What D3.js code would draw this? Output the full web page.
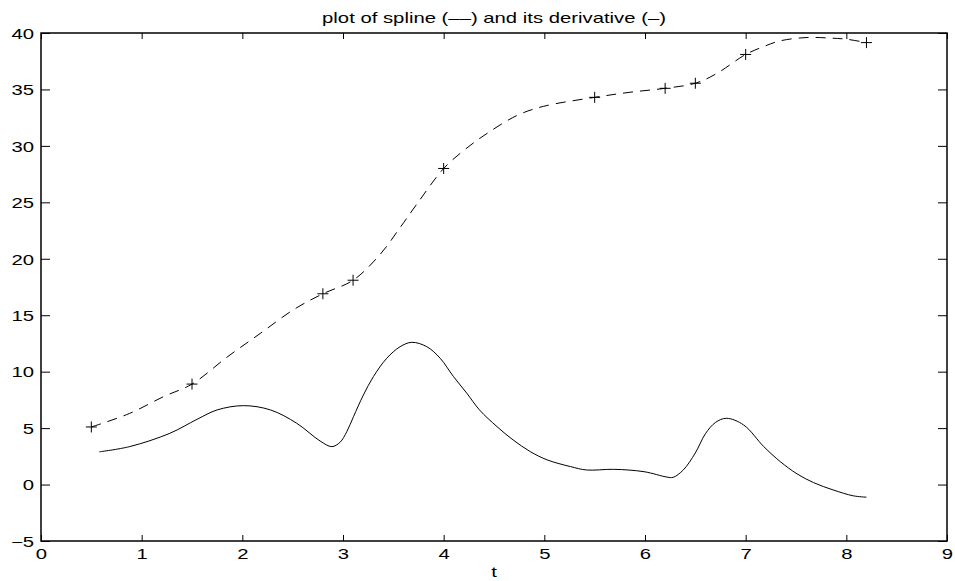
<!DOCTYPE html>
<html lang="en">
<head>
    <meta charset="UTF-8">
    <title>spline and derivative</title>
    <script src="https://d3js.org/d3.v7.min.js"></script>
    <style>
        body { margin: 0; background: #fff; }
        text { font-family: "Liberation Sans", Arial, Helvetica, sans-serif; }
    </style>
</head>
<body>
<script>
    // knots of the spline (the + markers)
    var knotT = [0.5, 1.5, 2.8, 3.1, 4.0, 5.5, 6.2, 6.5, 7.0, 8.2];
    var knotY = [5.1, 8.9, 16.9, 18.1, 28.0, 34.3, 35.1, 35.55, 38.1, 39.15];

    // spline curve (dashed)
    var splineT = [0.5, 0.88, 1.22, 1.5, 1.85, 2.18, 2.51, 2.8, 3.1, 3.37, 3.57, 3.73, 4.0, 4.2, 4.43, 4.73, 4.99, 5.5, 5.85, 6.2, 6.5, 6.71, 7.0, 7.18, 7.34, 7.61, 7.84, 8.0, 8.2];
    var splineY = [5.1, 6.3, 7.8, 8.9, 11.3, 13.4, 15.5, 16.9, 18.1, 20.4, 22.8, 24.8, 28.0, 29.6, 31.1, 32.7, 33.5, 34.3, 34.75, 35.1, 35.55, 36.4, 38.1, 38.8, 39.3, 39.6, 39.55, 39.45, 39.15];

    // derivative curve (solid)
    var derivT = [0.58, 0.88, 1.28, 1.55, 1.75, 2.01, 2.28, 2.54, 2.772, 2.889, 2.971, 3.038, 3.104, 3.203, 3.302, 3.435, 3.567, 3.684, 3.833, 3.965, 4.098, 4.23, 4.356, 4.53, 4.69, 4.86, 5.03, 5.26, 5.42, 5.69, 5.99, 6.22, 6.28, 6.38, 6.5, 6.6, 6.7, 6.81, 6.98, 7.18, 7.344, 7.51, 7.675, 7.87, 8.07, 8.2];
    var derivY = [2.9, 3.36, 4.54, 5.78, 6.61, 6.99, 6.61, 5.43, 3.86, 3.36, 3.75, 4.69, 6.01, 7.94, 9.56, 11.19, 12.21, 12.6, 12.21, 11.19, 9.56, 8.09, 6.61, 5.13, 3.95, 2.92, 2.18, 1.59, 1.29, 1.35, 1.14, 0.66, 0.64, 1.29, 2.8, 4.5, 5.5, 5.87, 5.28, 3.36, 2.03, 0.95, 0.17, -0.48, -1.0, -1.12];

    var xTicks = [0, 1, 2, 3, 4, 5, 6, 7, 8, 9];
    var yTicks = [-5, 0, 5, 10, 15, 20, 25, 30, 35, 40];

    var W = 955, H = 581;
    var boxL = 41, boxR = 947, boxT = 33, boxB = 541;
    var stretch = 1.45; // text in the picture is wide

    var svg = d3.select("body").append("svg")
        .attr("width", W)
        .attr("height", H);

    var x = d3.scaleLinear().domain([0, 9]).range([boxL, boxR]);
    var y = d3.scaleLinear().domain([-5, 40]).range([boxB, boxT]);

    var fmt = d3.format("d");

    // axes, ticks pointing inward
    var gB = svg.append("g").attr("transform", "translate(0," + boxB + ")")
        .call(d3.axisBottom(x).tickValues(xTicks).tickFormat(fmt).tickSizeInner(-6).tickSizeOuter(0).tickPadding(8));
    var gT = svg.append("g").attr("transform", "translate(0," + boxT + ")")
        .call(d3.axisTop(x).tickValues(xTicks).tickFormat("").tickSizeInner(-6).tickSizeOuter(0));
    var gL = svg.append("g").attr("transform", "translate(" + boxL + ",0)")
        .call(d3.axisLeft(y).tickValues(yTicks).tickFormat(fmt).tickSizeInner(-9).tickSizeOuter(0));
    var gR = svg.append("g").attr("transform", "translate(" + boxR + ",0)")
        .call(d3.axisRight(y).tickValues(yTicks).tickFormat("").tickSizeInner(-9).tickSizeOuter(0));

    [gB, gT, gL, gR].forEach(function(g){
        g.select(".domain").remove();
        g.selectAll(".tick line").attr("stroke", "#000").attr("stroke-width", 1);
        g.selectAll(".tick text")
            .attr("fill", "#000")
            .style("font-size", "14px")
            .attr("transform", "scale(" + stretch + ",1)");
    });
    gL.selectAll(".tick text").attr("x", -7 / stretch).attr("dy", "0.38em");

    svg.append("rect")
        .attr("x", boxL).attr("y", boxT)
        .attr("width", boxR - boxL).attr("height", boxB - boxT)
        .attr("fill", "none")
        .attr("stroke", "#000")
        .attr("stroke-width", 1.5);

    var line = d3.line()
        .x(function(d){ return x(d[0]); })
        .y(function(d){ return y(d[1]); })
        .curve(d3.curveCatmullRom.alpha(0.5));

    var splineData = splineT.map(function(t, i){ return [t, splineY[i]]; });
    var derivData = derivT.map(function(t, i){ return [t, derivY[i]]; });
    var knotData = knotT.map(function(t, i){ return [t, knotY[i]]; });

    svg.append("path")
        .attr("d", line(splineData))
        .attr("fill", "none")
        .attr("stroke", "#000")
        .attr("stroke-width", 1)
        .attr("stroke-dasharray", "10,7");

    svg.append("path")
        .attr("d", line(derivData))
        .attr("fill", "none")
        .attr("stroke", "#000")
        .attr("stroke-width", 1);

    // + markers
    var m = 5.5;
    svg.selectAll(".knot")
        .data(knotData)
        .enter()
        .append("path")
        .attr("class", "knot")
        .attr("d", function(d){
            var cx = x(d[0]), cy = y(d[1]);
            return "M" + (cx - m) + "," + cy + "H" + (cx + m) + "M" + cx + "," + (cy - m) + "V" + (cy + m);
        })
        .attr("stroke", "#000")
        .attr("stroke-width", 1)
        .attr("fill", "none");

    // title and x label
    function stretchedText(tx, ty, s) {
        svg.append("text")
            .attr("transform", "translate(" + tx + "," + ty + ") scale(" + stretch + ",1)")
            .attr("text-anchor", "middle")
            .style("font-size", "14px")
            .attr("fill", "#000")
            .text(s);
    }
    stretchedText((boxL + boxR) / 2, 23, "plot of spline (\u2013\u2013) and its derivative (\u2013)");
    stretchedText((boxL + boxR) / 2, 577, "t");
</script>
</body>
</html>
